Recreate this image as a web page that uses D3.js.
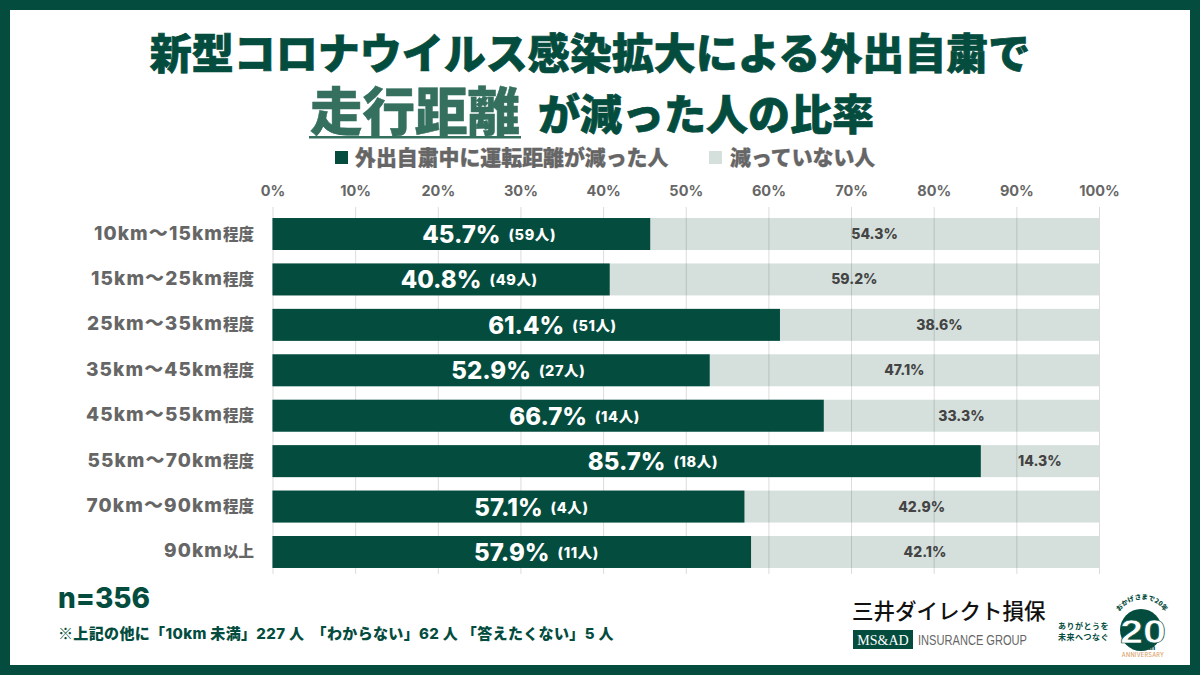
<!DOCTYPE html>
<html lang="ja">
<head>
<meta charset="utf-8">
<script src="https://cdn.jsdelivr.net/npm/d3@7"></script>
<style>
  html, body { margin: 0; padding: 0; background: #fff; }
  svg { display: block; }
  text { font-family: Inter, "Noto Sans CJK JP", sans-serif; font-weight: 800; white-space: pre; }
  .jp { font-family: "Noto Sans CJK JP", sans-serif; font-weight: 900; }
</style>
</head>
<body>
<svg id="chart" width="1200" height="675"></svg>
<script>
const categories = ['10km〜15km程度', '15km〜25km程度', '25km〜35km程度', '35km〜45km程度',
  '45km〜55km程度', '55km〜70km程度', '70km〜90km程度', '90km以上'];
const reduced = [45.7, 40.8, 61.4, 52.9, 66.7, 85.7, 57.1, 57.9];
const notReduced = [54.3, 59.2, 38.6, 47.1, 33.3, 14.3, 42.9, 42.1];
const counts = ['(59人)', '(49人)', '(51人)', '(27人)', '(14人)', '(18人)', '(4人)', '(11人)'];
const tickValues = [0, 10, 20, 30, 40, 50, 60, 70, 80, 90, 100];

const GREEN = '#034c3e', PALE = '#d5e0dd', GREY = '#666', MID = '#35705f';

const svg = d3.select('#chart');

// frame
svg.append('rect').attr('x', 5).attr('y', 5).attr('width', 1190).attr('height', 665)
  .attr('fill', 'none').attr('stroke', GREEN).attr('stroke-width', 10);

function label(x, y, str, size, fill, anchor, cls) {
  return svg.append('text').attr('x', x).attr('y', y).attr('font-size', size)
    .attr('fill', fill).attr('text-anchor', anchor || 'start').attr('class', cls || null).text(str);
}

// title
label(590, 69, '新型コロナウイルス感染拡大による外出自粛で', 42, GREEN, 'middle', 'jp')
  .attr('stroke', GREEN).attr('stroke-width', 0.7);
label(415, 131, '走行距離', 52.5, MID, 'middle', 'jp').attr('stroke', MID).attr('stroke-width', 0.5);
svg.append('rect').attr('x', 309).attr('y', 136).attr('width', 212).attr('height', 2.5).attr('fill', MID);
label(706, 130, 'が減った人の比率', 42, GREEN, 'middle', 'jp').attr('stroke', GREEN).attr('stroke-width', 0.7);

// legend
svg.append('rect').attr('x', 335).attr('y', 151).attr('width', 13).attr('height', 13).attr('fill', GREEN);
label(355, 165, '外出自粛中に運転距離が減った人', 20.9, GREY, 'start', 'jp').attr('stroke', GREY).attr('stroke-width', 0.3);
svg.append('rect').attr('x', 709).attr('y', 151).attr('width', 13).attr('height', 13).attr('fill', PALE);
label(730, 165, '減っていない人', 20.9, GREY, 'start', 'jp').attr('stroke', GREY).attr('stroke-width', 0.3);

// chart
const x = d3.scaleLinear().domain([0, 100]).range([272.5, 1099]);
const y = d3.scaleBand().domain(categories).range([211.3, 574.7]).paddingInner(0.296).paddingOuter(0.148);

svg.append('g').selectAll('rect').data(categories).join('rect')
  .attr('x', x(0)).attr('y', d => y(d))
  .attr('width', x(100) - x(0)).attr('height', y.bandwidth())
  .attr('fill', PALE);

const axis = svg.append('g').attr('transform', 'translate(0,207)')
  .call(d3.axisTop(x).tickValues(tickValues).tickFormat(d => d + '%').tickSize(-367).tickPadding(11));
axis.select('.domain').remove();
axis.selectAll('line').attr('stroke', '#000').attr('stroke-opacity', 0.14).attr('stroke-width', 1);
axis.selectAll('text').attr('font-size', 14.5).attr('fill', GREY)
  .style('font-family', 'Inter, sans-serif').style('font-weight', 700);

svg.append('g').selectAll('rect').data(categories).join('rect')
  .attr('x', x(0)).attr('y', d => y(d))
  .attr('width', (d, i) => x(reduced[i]) - x(0)).attr('height', y.bandwidth())
  .attr('fill', GREEN);

// row labels, the kanji suffix is set smaller than the latin part
const rowLabels = svg.append('g').selectAll('text').data(categories).join('text')
  .attr('x', 254).attr('y', d => y(d) + y.bandwidth() / 2 + 5.5)
  .attr('text-anchor', 'end').attr('fill', GREY);
rowLabels.append('tspan').attr('font-size', 19).attr('letter-spacing', 1.1)
  .text(d => d.slice(0, -2));
rowLabels.append('tspan').attr('font-size', 15.5)
  .text(d => d.slice(-2));

// value labels
const mid = (a, b) => (x(a) + x(b)) / 2;
const pct = svg.append('g').selectAll('text').data(categories).join('text')
  .attr('x', (d, i) => mid(0, reduced[i])).attr('y', d => y(d) + y.bandwidth() / 2 + 9)
  .attr('text-anchor', 'middle').attr('font-size', 24).attr('fill', '#fff')
  .text((d, i) => reduced[i].toFixed(1) + '%');
pct.each(function (d, i) {
  const right = mid(0, reduced[i]) + this.getComputedTextLength() / 2;
  svg.append('text').attr('x', right + 8).attr('y', y(d) + y.bandwidth() / 2 + 6)
    .attr('font-size', 14.5).attr('letter-spacing', 0.6).attr('fill', '#fff').text(counts[i]);
});
svg.append('g').selectAll('text').data(categories).join('text')
  .attr('x', (d, i) => mid(reduced[i], 100)).attr('y', d => y(d) + y.bandwidth() / 2 + 5)
  .attr('text-anchor', 'middle').attr('font-size', 14).attr('fill', '#444')
  .text((d, i) => notReduced[i].toFixed(1) + '%');

// notes
label(58, 608, 'n=356', 28, GREEN);
const note = label(58, 639, '', 15, GREEN).attr('letter-spacing', 0.35);
note.append('tspan').style('font-family', '"Noto Sans CJK JP"').style('font-weight', 400).text('※');
note.append('tspan').text('上記の他に「10km 未満」227 人  「わからない」62 人 「答えたくない」5 人');

// logo block
const logo = svg.append('g');
logo.append('text').attr('x', 852).attr('y', 619).attr('font-size', 21.5).attr('fill', '#111')
  .style('font-family', '"Noto Sans CJK JP"').style('font-weight', 500).text('三井ダイレクト損保');
logo.append('rect').attr('x', 853).attr('y', 630).attr('width', 60).attr('height', 19).attr('fill', GREEN);
logo.append('text').attr('x', 883).attr('y', 644.5).attr('font-size', 14).attr('fill', '#fff').attr('text-anchor', 'middle')
  .style('font-family', '"Liberation Serif"').style('font-weight', 400).text('MS&AD');
logo.append('text').attr('x', 918).attr('y', 645).attr('font-size', 14).attr('fill', '#666')
  .attr('textLength', 109).attr('lengthAdjust', 'spacingAndGlyphs')
  .style('font-family', '"Liberation Sans"').style('font-weight', 400).text('INSURANCE GROUP');
logo.append('text').attr('x', 1058).attr('y', 629).attr('font-size', 8).attr('fill', GREEN)
  .attr('letter-spacing', 0.5).style('font-family', '"Noto Sans CJK JP"').style('font-weight', 700).text('ありがとうを');
logo.append('text').attr('x', 1058).attr('y', 640).attr('font-size', 8).attr('fill', GREEN)
  .attr('letter-spacing', 0.5).style('font-family', '"Noto Sans CJK JP"').style('font-weight', 700).text('未来へつなぐ');
logo.append('circle').attr('cx', 1141).attr('cy', 630).attr('r', 21).attr('fill', GREEN);
logo.append('text').attr('x', 1143).attr('y', 643).attr('font-size', 34).attr('fill', '#fff').attr('text-anchor', 'middle')
  .attr('textLength', 46).attr('lengthAdjust', 'spacingAndGlyphs')
  .attr('stroke', GREEN).attr('stroke-width', 0.6).style('font-family', '"Liberation Sans"').text('20');
logo.append('text').attr('x', 1148).attr('y', 649.5).attr('font-size', 7).attr('fill', GREEN).text('th');
logo.append('text').attr('x', 1143).attr('y', 656.5).attr('font-size', 5.5).attr('fill', '#d9a066').attr('text-anchor', 'middle')
  .attr('letter-spacing', 0.3).style('font-weight', 500).text('ANNIVERSARY');
logo.append('path').attr('id', 'arc').attr('fill', 'none').attr('d', 'M1116,619 A27,27 0 0 1 1168,619');
logo.append('text').attr('font-size', 6.5).attr('fill', GREEN).style('font-family', '"Noto Sans CJK JP"')
  .append('textPath').attr('href', '#arc').attr('startOffset', '50%').attr('text-anchor', 'middle').text('おかげさまで20年');
</script>
</body>
</html>
